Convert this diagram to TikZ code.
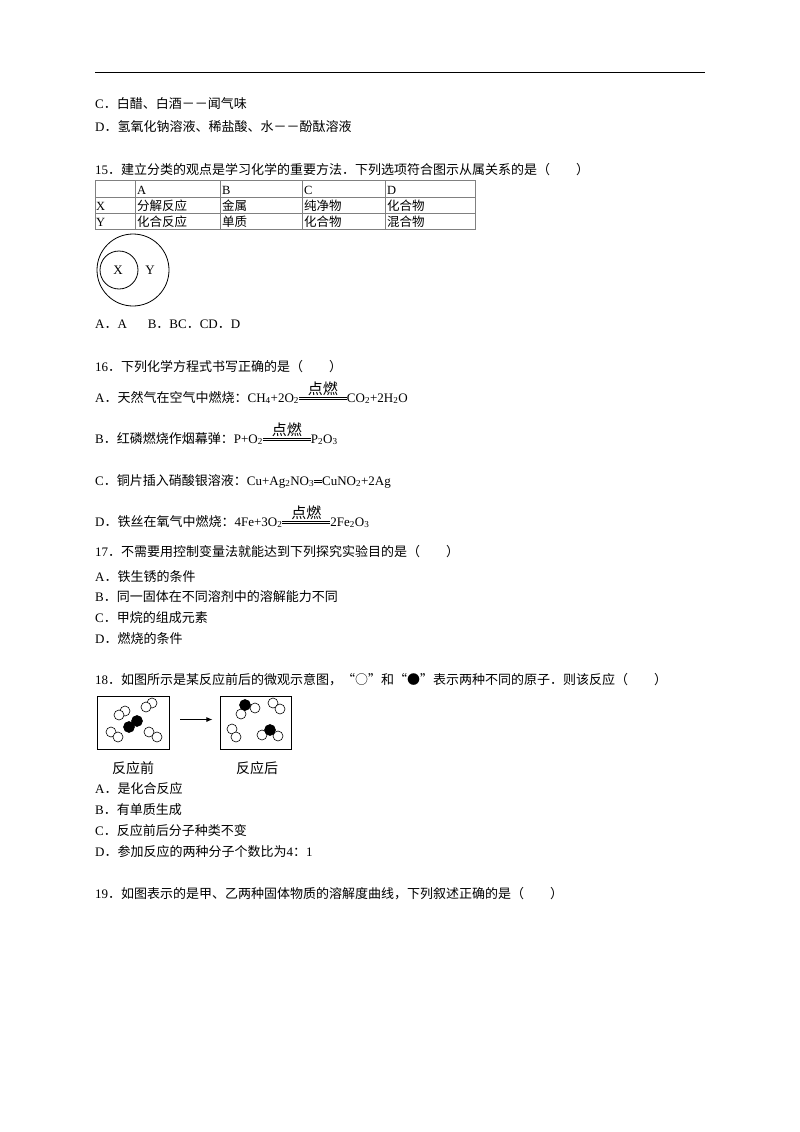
\documentclass[tikz,border=0pt]{standalone}
\usepackage{fontspec}
\usetikzlibrary{arrows.meta}
\setmainfont{Liberation Serif}
\newfontfamily\cjkf{Noto Sans CJK SC}
\newcommand\z{\cjkf}
\newcommand\pd{{\cjkf ．}}
\newcommand\dr[2]{\raisebox{3pt}{\vbox{\hbox to #1{\hss\z\fontsize{15}{15}\selectfont #2\hss}\kern1pt\hrule width #1 height 0.5pt\kern1.5pt\hrule width #1 height 0.5pt}}}
\newcommand\sub[1]{\textsubscript{#1}}
\begin{document}
\begin{tikzpicture}[x=1pt,y=-1pt,
  t/.style={anchor=base west,inner sep=0pt,font=\fontsize{13}{15}\selectfont},
  tc/.style={anchor=base west,inner sep=0pt,font=\fontsize{12.5}{14}\selectfont},
  w/.style={draw,fill=white,line width=0.6pt},
  b/.style={draw,fill=black,line width=0.6pt}]
\useasboundingbox (0,0) rectangle (800,1132);
\draw[line width=0.8pt] (95,72) -- (705,72);
\node[t] (c14) at (95,108) {C\pd{\z 白醋、白酒－－闻气味}};
\node[t] (d14) at (95,131) {D\pd{\z 氢氧化钠溶液、稀盐酸、水－－酚酞溶液}};
\node[t] (q15) at (95,174) {15\pd{\z 建立分类的观点是学习化学的重要方法．下列选项符合图示从属关系的是（\hspace{2em}）}};
% table
\draw[gray,line width=0.5pt] (95,180) rectangle (475,229);
\foreach \yy in {197,213} \draw[gray,line width=0.5pt] (95,\yy) -- (475,\yy);
\foreach \xx in {135,220,302,385} \draw[gray,line width=0.5pt] (\xx,180) -- (\xx,229);
\node[tc] (ta) at (137,194) {A};
\node[tc] (tb) at (222,194) {B};
\node[tc] (tcc) at (304,194) {C};
\node[tc] (td) at (387,194) {D};
\node[tc] (tx) at (96,210) {X};
\node[tc] (ty) at (96,226) {Y};
\node[tc] (x1) at (137,210) {\z 分解反应};
\node[tc] (x2) at (222,210) {\z 金属};
\node[tc] (x3) at (304,210) {\z 纯净物};
\node[tc] (x4) at (387,210) {\z 化合物};
\node[tc] (y1) at (137,226) {\z 化合反应};
\node[tc] (y2) at (222,226) {\z 单质};
\node[tc] (y3) at (304,226) {\z 化合物};
\node[tc] (y4) at (387,226) {\z 混合物};
% circles
\draw[line width=0.8pt] (133,270) circle (36);
\draw[line width=0.8pt] (119,270) circle (19);
\node[inner sep=0pt,font=\fontsize{13}{15}\selectfont] (cx) at (118,270) {X};
\node[inner sep=0pt,font=\fontsize{13}{15}\selectfont] (cy) at (150,270) {Y};
\node[t] (a15) at (95,328) {A\pd A\hspace{1.6em}B\pd BC\pd CD\pd D};
% 16
\node[t] (q16) at (95,371) {16\pd{\z 下列化学方程式书写正确的是（\hspace{2em}）}};
\node[t] (a16) at (95,402) {A\pd{\z 天然气在空气中燃烧：}CH\sub{4}+2O\sub{2}\dr{48pt}{点燃}CO\sub{2}+2H\sub{2}O};
\node[t] (b16) at (95,443) {B\pd{\z 红磷燃烧作烟幕弹：}P+O\sub{2}\dr{48pt}{点燃}P\sub{2}O\sub{3}};
\node[t] (c16) at (95,485) {C\pd{\z 铜片插入硝酸银溶液：}Cu+Ag\sub{2}NO\sub{3}\dr{8pt}{}CuNO\sub{2}+2Ag};
\node[t] (d16) at (95,526) {D\pd{\z 铁丝在氧气中燃烧：}4Fe+3O\sub{2}\dr{48pt}{点燃}2Fe\sub{2}O\sub{3}};
% 17
\node[t] (q17) at (95,556) {17\pd{\z 不需要用控制变量法就能达到下列探究实验目的是（\hspace{2em}）}};
\node[t] (a17) at (95,581) {A\pd{\z 铁生锈的条件}};
\node[t] (b17) at (95,601) {B\pd{\z 同一固体在不同溶剂中的溶解能力不同}};
\node[t] (c17) at (95,622) {C\pd{\z 甲烷的组成元素}};
\node[t] (d17) at (95,643) {D\pd{\z 燃烧的条件}};
% 18
\node[t] (q18) at (95,684) {18\pd{\z 如图所示是某反应前后的微观示意图，“○”和“●”表示两种不同的原子．则该反应（\hspace{2em}）}};
\node[draw,line width=0.8pt,minimum width=72pt,minimum height=53pt,inner sep=0pt] (bx1) at (133,722.5) {};
\node[draw,line width=0.8pt,minimum width=71pt,minimum height=53pt,inner sep=0pt] (bx2) at (255.5,722.5) {};
\draw[-{Latex[length=6pt,width=5pt]},line width=0.8pt] (bx1.east) ++(11,-3) coordinate (ar1) -- ++(32,0) coordinate (ar2);
% left molecules
\draw[w] (125,711) circle (5); \draw[w] (119,715) circle (5);
\draw[w] (152,703) circle (5); \draw[w] (146,707) circle (5);
\draw[b] (137,721) circle (5.5); \draw[b] (129,727) circle (5.5);
\draw[w] (111,732) circle (5); \draw[w] (118,737) circle (5);
\draw[w] (149,732) circle (5); \draw[w] (157,737) circle (5);
% right molecules
\draw[w] (241,714) circle (5); \draw[w] (255,708) circle (5); \draw[b] (245,705) circle (5.5);
\draw[w] (273,703) circle (5); \draw[w] (280,709) circle (5);
\draw[w] (232,729) circle (5); \draw[w] (236,737) circle (5);
\draw[w] (262,735) circle (5); \draw[w] (278,736) circle (5); \draw[b] (270,730) circle (5.5);
\node[inner sep=0pt,font=\fontsize{14}{16}\selectfont\z] (l1) at (133,768) {反应前};
\node[inner sep=0pt,font=\fontsize{14}{16}\selectfont\z] (l2) at (257,768) {反应后};
\node[t] (a18) at (95,793) {A\pd{\z 是化合反应}};
\node[t] (b18) at (95,814) {B\pd{\z 有单质生成}};
\node[t] (c18) at (95,835) {C\pd{\z 反应前后分子种类不变}};
\node[t] (d18) at (95,856) {D\pd{\z 参加反应的两种分子个数比为}4{\z ：}1};
\node[t] (q19) at (95,898) {19\pd{\z 如图表示的是甲、乙两种固体物质的溶解度曲线，下列叙述正确的是（\hspace{2em}）}};
\end{tikzpicture}
\end{document}
